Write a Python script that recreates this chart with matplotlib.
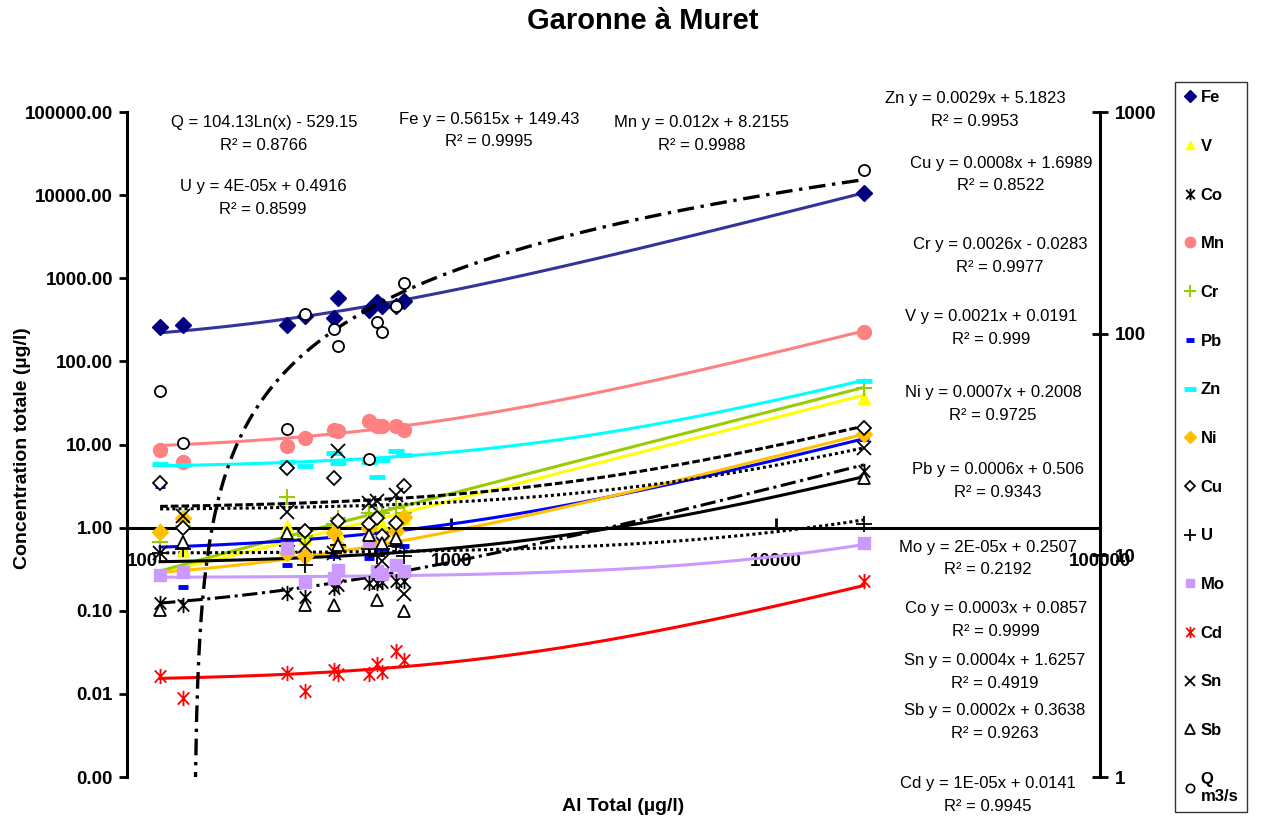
import numpy as np
import matplotlib.pyplot as plt
from matplotlib.path import Path
from matplotlib.lines import Line2D
from matplotlib.ticker import NullLocator

plt.rcParams['font.family'] = ['Liberation Sans', 'DejaVu Sans']

# Al total of each sample (µg/l)
al_total = [126.5, 148.9, 311.7, 354.3, 435.4, 448.0, 558.0, 591.0, 612.0, 676.0, 716.0, 18690.0]

fe = [260, 277, 275, 356, 330, 581, 412, 514, 469, 469, 529, 10660]
v = [0.95, 0.52, 1.05, 0.75, 0.9, 0.85, 1.3, 1.3, 1.1, 1.2, 1.3, 36.4]
co = [0.123, 0.118, 0.162, 0.148, 0.186, 0.204, 0.213, 0.213, 0.22, 0.225, 0.23, 4.76]
mn = [8.5, 6.2, 9.5, 12.0, 15.1, 14.4, 19.0, 16.9, 16.6, 16.6, 14.8, 224]
cr = [0.68, 1.05, 2.34, 0.8, 1.1, 1.3, 1.5, 1.4, 1.5, 1.7, 1.5, 48.0]
pb = [3.2, 0.195, 0.36, 0.5, 0.45, 0.6, 0.43, 0.65, 0.55, 0.62, 0.6, 11.5]
zn = [5.8, 5.7, 6.2, 5.5, 7.9, 6.0, 6.2, 4.1, 6.5, 8.3, 7.4, 57.6]
ni = [0.88, 1.32, 0.5, 0.45, 0.86, 0.6, 1.0, 0.7, 0.8, 0.9, 1.35, 13.3]
cu = [3.45, 1.0, 5.2, 0.9, 3.9, 1.2, 1.1, 1.3, 0.8, 1.14, 3.2, 15.8]
u = [0.5, 0.55, 0.6, 0.36, 0.5, 0.62, 0.55, 0.45, 0.55, 0.6, 0.45, 1.12]
mo = [0.27, 0.29, 0.57, 0.22, 0.25, 0.31, 0.7, 0.30, 0.28, 0.36, 0.3, 0.66]
cd = [0.0163, 0.0089, 0.0178, 0.0107, 0.0196, 0.0172, 0.0172, 0.0226, 0.0185, 0.0325, 0.0259, 0.226]
sn = [0.5, 1.38, 1.55, 0.6, 0.5, 8.3, 2.0, 2.07, 0.4, 2.5, 0.16, 9.1]
sb = [0.102, 0.68, 0.86, 0.117, 0.117, 0.62, 0.82, 0.135, 0.65, 0.75, 0.098, 3.97]
q_m3s = [55.3, 32.0, 37.0, 122.5, 104.5, 87.9, 27.1, 113.2, 102, 133, 168.6, 547]

# linear trendlines as printed on the chart: y = slope*x + offset
series_names = ['Fe', 'V', 'Co', 'Mn', 'Cr', 'Pb', 'Zn', 'Ni', 'Cu', 'U', 'Mo', 'Cd', 'Sn', 'Sb']
series_values = [fe, v, co, mn, cr, pb, zn, ni, cu, u, mo, cd, sn, sb]
trend_slope = [0.5615, 0.0021, 0.0003, 0.012, 0.0026, 0.0006, 0.0029, 0.0007, 0.0008, 4e-05, 2e-05, 1e-05, 0.0004, 0.0002]
trend_offset = [149.43, 0.0191, 0.0857, 8.2155, -0.0283, 0.506, 5.1823, 0.2008, 1.6989, 0.4916, 0.2507, 0.0141, 1.6257, 0.3638]
# Q = a*ln(x) + b
q_trend = [104.13, -529.15]

annot_lines = [
    ('Q = 104.13Ln(x) - 529.15', 'R² = 0.8766', 264, 123),
    ('U y = 4E-05x + 0.4916', 'R² = 0.8599', 263, 186),
    ('Fe y = 0.5615x + 149.43', 'R² = 0.9995', 489, 119),
    ('Mn y = 0.012x + 8.2155', 'R² = 0.9988', 702, 122),
    ('Zn y = 0.0029x + 5.1823', 'R² = 0.9953', 975, 99),
    ('Cu y = 0.0008x + 1.6989', 'R² = 0.8522', 1001, 163),
    ('Cr y = 0.0026x - 0.0283', 'R² = 0.9977', 1000, 244),
    ('V y = 0.0021x + 0.0191', 'R² = 0.999', 991, 316),
    ('Ni y = 0.0007x + 0.2008', 'R² = 0.9725', 993, 392),
    ('Pb y = 0.0006x + 0.506', 'R² = 0.9343', 998, 469),
    ('Mo y = 2E-05x + 0.2507', 'R² = 0.2192', 988, 547),
    ('Co y = 0.0003x + 0.0857', 'R² = 0.9999', 996, 608),
    ('Sn y = 0.0004x + 1.6257', 'R² = 0.4919', 995, 660),
    ('Sb y = 0.0002x + 0.3638', 'R² = 0.9263', 995, 710),
    ('Cd y = 1E-05x + 0.0141', 'R² = 0.9945', 988, 783),
]

star = Path([(0, -1), (0, 1), (-0.75, -0.8), (0.75, 0.8), (-0.75, 0.8), (0.75, -0.8)],
            [Path.MOVETO, Path.LINETO] * 3)

# marker, size, face, edge, edge width, line colour, line style
styles = {
    'Fe': ('D', 8, '#000080', '#000080', 1, '#333399', '-'),
    'V': ('^', 8, '#FFFF00', '#FFFF00', 1, '#FFFF00', '-'),
    'Co': (star, 11, 'black', 'black', 1.3, 'black', (0, (5, 1.5, 1, 1.5))),
    'Mn': ('o', 10, '#FF8080', '#FF8080', 1, '#FF8080', '-'),
    'Cr': ('+', 11, '#99CC00', '#99CC00', 1.5, '#99CC00', '-'),
    'Pb': ('_', 7, '#0000FF', '#0000FF', 3.5, '#0000FF', '-'),
    'Zn': ('_', 12, '#00FFFF', '#00FFFF', 3.5, '#00FFFF', '-'),
    'Ni': ('D', 8, '#FFC000', '#FFC000', 1, '#FFC000', '-'),
    'Cu': ('D', 7, 'white', 'black', 1.3, 'black', (0, (2.5, 1))),
    'U': ('+', 11, 'black', 'black', 1.3, 'black', (0, (1, 1))),
    'Mo': ('s', 8, '#CC99FF', '#CC99FF', 1, '#CC99FF', '-'),
    'Cd': (star, 11, '#FF0000', '#FF0000', 1.3, '#FF0000', '-'),
    'Sn': ('x', 10, 'black', 'black', 1.3, 'black', (0, (1, 1))),
    'Sb': ('^', 9, 'white', 'black', 1.3, 'black', '-'),
}

W, H = 1269, 821


def fx(px):
    return px / W


def fy(py):
    return 1 - py / H


fig = plt.figure(figsize=(W / 100, H / 100), dpi=100)
ax = fig.add_axes([fx(127), fy(777), fx(1100) - fx(127), fy(112) - fy(777)])
ax.set_xscale('log')
ax.set_yscale('log')
ax.set_xlim(100, 100000)
ax.set_ylim(0.001, 100000)

x_fit = np.geomspace(min(al_total), max(al_total), 400)
for idx, name in enumerate(series_names):
    mk, ms, fc, ec, mew, lc, ls = styles[name]
    y_fit = trend_slope[idx] * x_fit + trend_offset[idx]
    y_fit[y_fit <= 0] = np.nan
    ax.plot(x_fit, y_fit, color=lc, linestyle=ls, linewidth=2.2, zorder=2)
for idx, name in enumerate(series_names):
    mk, ms, fc, ec, mew, lc, ls = styles[name]
    ax.plot(al_total, series_values[idx], linestyle='none', marker=mk, markersize=ms,
            markerfacecolor=fc, markeredgecolor=ec, markeredgewidth=mew, zorder=3)

ax.spines['top'].set_visible(False)
ax.spines['right'].set_visible(False)
ax.spines['bottom'].set_position(('data', 1.0))
ax.spines['bottom'].set_linewidth(2.2)
ax.spines['left'].set_linewidth(2.2)

y_ticks = [0.001, 0.01, 0.1, 1, 10, 100, 1000, 10000, 100000]
ax.set_yticks(y_ticks, ['%.2f' % t for t in y_ticks])
ax.yaxis.set_minor_locator(NullLocator())
ax.tick_params(axis='y', direction='out', length=6, width=2, labelsize=13.5, pad=4)
x_ticks = [100, 1000, 10000, 100000]
ax.set_xticks(x_ticks, ['%d' % t for t in x_ticks])
ax.xaxis.set_minor_locator(NullLocator())
ax.tick_params(axis='x', direction='in', length=7, width=2, labelsize=13.5, pad=18)
for lab in ax.get_xticklabels() + ax.get_yticklabels():
    lab.set_fontweight('bold')
ax.get_xticklabels()[0].set_horizontalalignment('left')

ax.set_ylabel('Concentration totale (µg/l)', fontsize=14, fontweight='bold')
ax.yaxis.set_label_coords(-0.099, 0.495)
ax.set_xlabel('Al Total (µg/l)', fontsize=14, fontweight='bold')
ax.xaxis.set_label_coords(0.51, -0.032)

# secondary axis for the discharge
ax2 = ax.twinx()
ax2.set_yscale('log')
ax2.set_ylim(1, 1000)
q_x = np.geomspace(min(al_total), max(al_total), 600)
q_fit = q_trend[0] * np.log(q_x) + q_trend[1]
q_fit[q_fit <= 0] = np.nan
ax2.plot(q_x, q_fit, color='black', linestyle=(0, (5, 2, 1, 2)), linewidth=2.4, zorder=2)
ax2.plot(al_total, q_m3s, linestyle='none', marker='o', markersize=8, markerfacecolor='white',
         markeredgecolor='black', markeredgewidth=1.3, zorder=3)
ax2.patch.set_visible(False)
for side in ['top', 'left', 'bottom']:
    ax2.spines[side].set_visible(False)
ax2.spines['right'].set_linewidth(2.2)
r_ticks = [1, 10, 100, 1000]
ax2.set_yticks(r_ticks, ['%d' % t for t in r_ticks])
ax2.yaxis.set_minor_locator(NullLocator())
ax2.tick_params(axis='y', direction='inout', length=12, width=2, labelsize=13.5, pad=5)
for lab in ax2.get_yticklabels():
    lab.set_fontweight('bold')

for line1, line2, cx, cy in annot_lines:
    fig.text(fx(cx), fy(cy), line1, ha='center', va='center', fontsize=12)
    fig.text(fx(cx), fy(cy + 23), line2, ha='center', va='center', fontsize=12)

fig.text(fx(643), fy(21), 'Garonne à Muret', ha='center', va='center', fontsize=21, fontweight='bold')

handles = []
for name in series_names:
    mk, ms, fc, ec, mew, lc, ls = styles[name]
    handles.append(Line2D([], [], linestyle='none', marker=mk, markersize=ms * 0.75,
                          markerfacecolor=fc, markeredgecolor=ec, markeredgewidth=mew))
handles.append(Line2D([], [], linestyle='none', marker='o', markersize=6, markerfacecolor='white',
                      markeredgecolor='black', markeredgewidth=1.2))
leg = fig.legend(handles, series_names + ['Q\nm3/s'], loc='upper left',
                 bbox_to_anchor=(fx(1175), fy(82)), frameon=True, fancybox=False,
                 edgecolor='black', prop={'weight': 'bold', 'size': 12}, labelspacing=2.02,
                 handlelength=0.8, handletextpad=0.25, borderpad=0.5, borderaxespad=0)
leg.get_frame().set_linewidth(1.0)

plt.savefig('out.png', dpi=100)
